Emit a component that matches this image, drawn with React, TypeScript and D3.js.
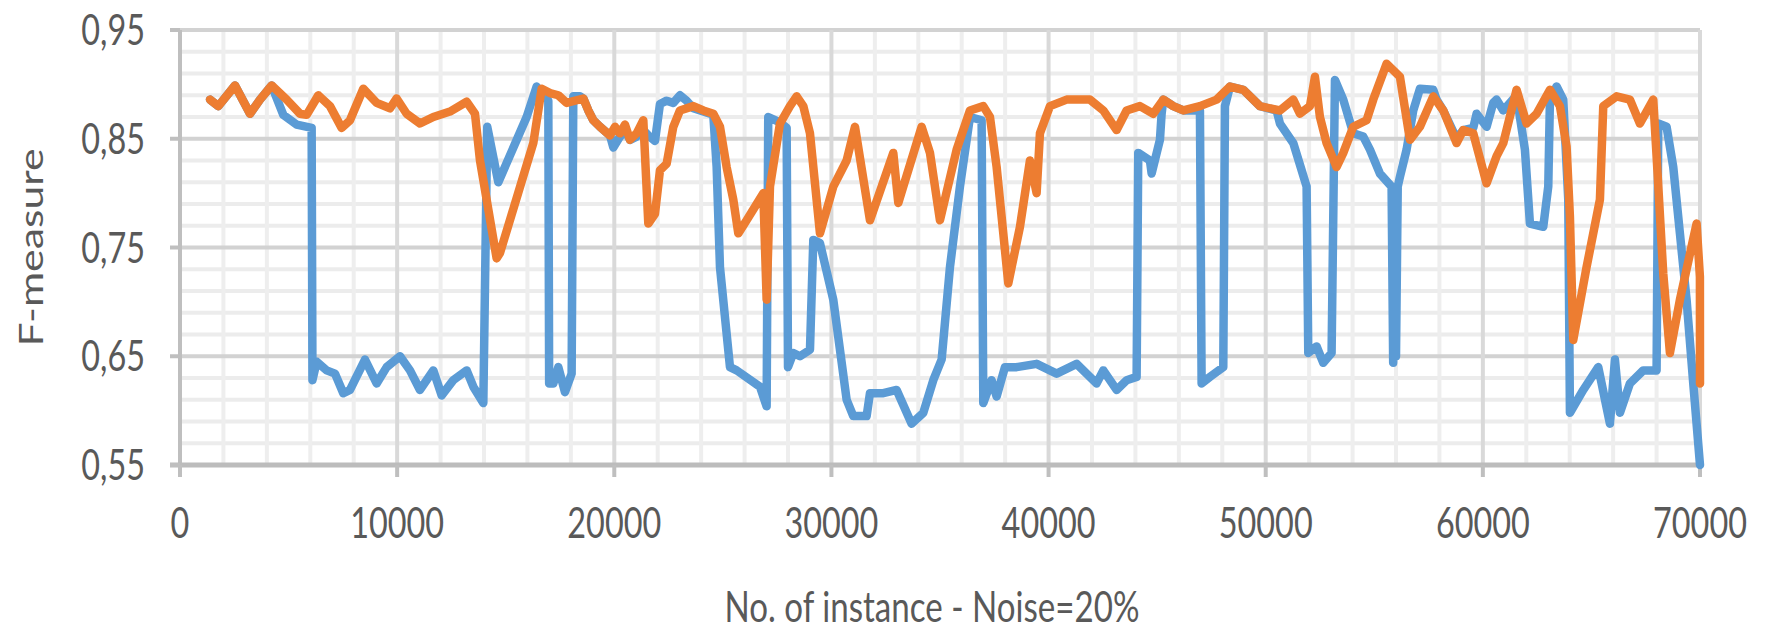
import React from "react";
import * as d3 from "d3";

const xTicks = [0, 10000, 20000, 30000, 40000, 50000, 60000, 70000];
const xTickLabels = ["0", "10000", "20000", "30000", "40000", "50000", "60000", "70000"];
const yTicks = [0.55, 0.65, 0.75, 0.85, 0.95];
const yTickLabels = ["0,55", "0,65", "0,75", "0,85", "0,95"];
const xTitle = "No. of instance - Noise=20%";
const yTitle = "F-measure";

const seriesBlue: [number, number][] = [
  [1381, 0.886], [1765, 0.88], [2533, 0.899], [3224, 0.873], [3684, 0.886], [4221, 0.899],
  [4758, 0.872], [5372, 0.863], [6063, 0.86], [6100, 0.628], [6293, 0.645], [6754, 0.637],
  [7138, 0.634], [7521, 0.616], [7828, 0.619], [8519, 0.647], [9056, 0.625], [9517, 0.64],
  [10131, 0.65], [10591, 0.637], [11052, 0.619], [11666, 0.637], [12050, 0.614], [12587, 0.628],
  [13201, 0.637], [13508, 0.622], [13969, 0.607], [14150, 0.861], [14659, 0.81], [15964, 0.87],
  [16424, 0.898], [16700, 0.89], [16962, 0.885], [17000, 0.625], [17192, 0.625], [17422, 0.64],
  [17729, 0.617], [18036, 0.634], [18113, 0.889], [18420, 0.889], [18574, 0.887], [18804, 0.876],
  [19034, 0.867], [19341, 0.861], [19802, 0.853], [19955, 0.842], [20262, 0.852], [20492, 0.858],
  [20723, 0.849], [21030, 0.852], [21337, 0.858], [21567, 0.853], [21874, 0.848], [22104, 0.882],
  [22411, 0.885], [22718, 0.883], [23025, 0.89], [23332, 0.885], [23639, 0.878], [24100, 0.875],
  [24560, 0.872], [24714, 0.824], [24867, 0.732], [25328, 0.64], [25635, 0.637], [26709, 0.622],
  [27016, 0.604], [27090, 0.87], [27630, 0.865], [27937, 0.86], [28000, 0.64], [28244, 0.653],
  [28551, 0.65], [29012, 0.656], [29165, 0.757], [29472, 0.754], [30086, 0.702], [30700, 0.61],
  [31007, 0.595], [31621, 0.595], [31775, 0.616], [32389, 0.616], [33003, 0.619], [33693, 0.588],
  [34231, 0.598], [34691, 0.628], [35075, 0.647], [35459, 0.732], [35919, 0.806], [36380, 0.87],
  [36917, 0.867], [36994, 0.607], [37377, 0.628], [37608, 0.613], [37991, 0.64], [38529, 0.64],
  [39450, 0.643], [40371, 0.634], [41292, 0.643], [42213, 0.625], [42520, 0.637], [43134, 0.619],
  [43594, 0.628], [44055, 0.631], [44130, 0.837], [44669, 0.83], [44746, 0.818], [45129, 0.849],
  [45206, 0.873], [45283, 0.886], [45743, 0.88], [46204, 0.876], [46971, 0.876], [47048, 0.625],
  [47432, 0.631], [48046, 0.64], [48123, 0.88], [48353, 0.898], [48967, 0.895], [49734, 0.88],
  [50502, 0.876], [50655, 0.864], [51269, 0.846], [51883, 0.806], [51960, 0.653], [52344, 0.659],
  [52651, 0.644], [53034, 0.653], [53188, 0.904], [53572, 0.886], [54032, 0.855], [54493, 0.852],
  [54800, 0.84], [55260, 0.818], [55797, 0.806], [55870, 0.644], [55950, 0.8], [56000, 0.65],
  [56080, 0.806], [56181, 0.815], [56488, 0.84], [56795, 0.876], [57102, 0.896], [57716, 0.895],
  [57870, 0.886], [58177, 0.876], [58791, 0.85], [59098, 0.858], [59558, 0.86], [59712, 0.873],
  [60172, 0.861], [60479, 0.883], [60633, 0.886], [60940, 0.876], [61553, 0.89], [61707, 0.87],
  [61937, 0.84], [62168, 0.772], [62782, 0.769], [63012, 0.806], [63089, 0.886], [63396, 0.898],
  [63703, 0.886], [63933, 0.794], [64010, 0.598], [64624, 0.619], [65314, 0.64], [65852, 0.588],
  [66082, 0.647], [66312, 0.598], [66773, 0.625], [67387, 0.637], [68001, 0.637], [68078, 0.864],
  [68461, 0.861], [68768, 0.824], [69075, 0.763], [69382, 0.702], [69689, 0.625], [70000, 0.55],
];

const seriesOrange: [number, number][] = [
  [1381, 0.886], [1765, 0.88], [2533, 0.899], [3224, 0.873], [3684, 0.886], [4221, 0.899],
  [4912, 0.886], [5526, 0.873], [5833, 0.872], [6370, 0.89], [6908, 0.88], [7445, 0.86],
  [7828, 0.867], [8442, 0.896], [9056, 0.883], [9670, 0.878], [9977, 0.887], [10438, 0.873],
  [11052, 0.864], [11666, 0.87], [12434, 0.875], [13201, 0.884], [13585, 0.873], [13815, 0.83],
  [14582, 0.74], [14736, 0.745], [16271, 0.846], [16655, 0.896], [17038, 0.892], [17422, 0.89],
  [17806, 0.883], [18574, 0.887], [18804, 0.876], [19034, 0.867], [19341, 0.861], [19802, 0.853],
  [20032, 0.861], [20262, 0.855], [20492, 0.863], [20723, 0.849], [21030, 0.855], [21337, 0.867],
  [21567, 0.772], [21874, 0.781], [22104, 0.821], [22411, 0.827], [22718, 0.861], [23025, 0.876],
  [23639, 0.88], [24100, 0.876], [24560, 0.873], [24867, 0.861], [25174, 0.824], [25481, 0.794],
  [25711, 0.763], [26095, 0.775], [26863, 0.8], [27016, 0.702], [27170, 0.806], [27630, 0.864],
  [28091, 0.88], [28398, 0.889], [28705, 0.88], [29012, 0.855], [29472, 0.763], [30086, 0.806],
  [30700, 0.83], [31084, 0.861], [31775, 0.775], [32849, 0.837], [33079, 0.791], [33310, 0.806],
  [34154, 0.861], [34538, 0.837], [34998, 0.775], [35766, 0.84], [36380, 0.876], [36994, 0.88],
  [37301, 0.87], [37608, 0.824], [38145, 0.717], [38682, 0.769], [39143, 0.83], [39450, 0.8],
  [39603, 0.855], [40064, 0.88], [40831, 0.886], [41906, 0.886], [42520, 0.876], [43134, 0.858],
  [43594, 0.876], [44208, 0.88], [44822, 0.873], [45283, 0.886], [45743, 0.88], [46204, 0.876],
  [46971, 0.88], [47739, 0.886], [48353, 0.898], [48967, 0.895], [49734, 0.88], [50655, 0.876],
  [51269, 0.886], [51576, 0.873], [52037, 0.88], [52267, 0.907], [52497, 0.87], [52804, 0.846],
  [53265, 0.824], [53572, 0.837], [54032, 0.861], [54646, 0.867], [54953, 0.886], [55567, 0.919],
  [56181, 0.907], [56641, 0.849], [57102, 0.861], [57716, 0.889], [58177, 0.876], [58791, 0.846],
  [59098, 0.858], [59558, 0.855], [60172, 0.809], [60633, 0.834], [60940, 0.846], [61553, 0.895],
  [62014, 0.864], [62475, 0.873], [63089, 0.895], [63549, 0.88], [63856, 0.843], [64010, 0.778],
  [64163, 0.665], [64777, 0.732], [65391, 0.794], [65545, 0.88], [66159, 0.889], [66773, 0.886],
  [67233, 0.864], [67847, 0.886], [68001, 0.834], [68308, 0.726], [68615, 0.653], [69075, 0.702],
  [69843, 0.772], [69996, 0.723], [70000, 0.625],
];

const FONT = "Lato, 'Open Sans', sans-serif";
const TEXT = "#595959";

export default function App() {
  const W = 1770;
  const H = 630;
  const x = d3.scaleLinear().domain([0, 70000]).range([180, 1700]);
  const y = d3.scaleLinear().domain([0.55, 0.95]).range([465, 30]);

  const minorX = d3.range(2000, 70000, 2000).filter((v) => v % 10000 !== 0);
  const minorY = d3.range(1, 20).filter((i) => i % 5 !== 0).map((i) => 0.55 + i * 0.02);

  const line = d3
    .line<[number, number]>()
    .x((d) => x(d[0]))
    .y((d) => y(d[1]));

  const [x0, x1] = x.range();
  const [y0, y1] = y.range();
  const labelScale = "scale(0.9, 1.16)";

  return (
    <svg
      width={W}
      height={H}
      viewBox={`0 0 ${W} ${H}`}
      style={{ position: "absolute", left: 0, top: 0, background: "#fff" }}
    >
      <rect x={0} y={0} width={W} height={H} fill="#fff" />
      {minorY.map((v, i) => (
        <line key={`my${i}`} x1={x0} x2={x1} y1={y(v)} y2={y(v)} stroke="#ececec" strokeWidth={4} />
      ))}
      {minorX.map((v, i) => (
        <line key={`mx${i}`} x1={x(v)} x2={x(v)} y1={y1} y2={y0} stroke="#eeeeee" strokeWidth={4} />
      ))}
      {yTicks.slice(1).map((v, i) => (
        <line key={`gy${i}`} x1={x0} x2={x1} y1={y(v)} y2={y(v)} stroke="#d2d2d2" strokeWidth={4} />
      ))}
      {xTicks.slice(1).map((v, i) => (
        <line key={`gx${i}`} x1={x(v)} x2={x(v)} y1={y1} y2={y0} stroke="#d9d9d9" strokeWidth={4} />
      ))}
      <line x1={x0} x2={x0} y1={y1} y2={y0 + 12} stroke="#bfbfbf" strokeWidth={4} />
      <line x1={x0 - 10} x2={x1 + 2} y1={y0} y2={y0} stroke="#bcbcbc" strokeWidth={5} />
      {yTicks.map((v, i) => (
        <line key={`ty${i}`} x1={x0 - 10} x2={x0} y1={y(v)} y2={y(v)} stroke="#bfbfbf" strokeWidth={4} />
      ))}
      {xTicks.map((v, i) => (
        <line key={`tx${i}`} x1={x(v)} x2={x(v)} y1={y0} y2={y0 + 12} stroke="#bfbfbf" strokeWidth={4} />
      ))}
      <path
        d={line(seriesBlue) || ""}
        fill="none"
        stroke="#5b9bd5"
        strokeWidth={8.5}
        strokeLinejoin="round"
        strokeLinecap="round"
      />
      <path
        d={line(seriesOrange) || ""}
        fill="none"
        stroke="#ed7d31"
        strokeWidth={8.5}
        strokeLinejoin="round"
        strokeLinecap="round"
      />
      {yTicks.map((v, i) => (
        <text
          key={`ly${i}`}
          transform={`translate(145, ${y(v) + 15}) ${labelScale}`}
          textAnchor="end"
          fontFamily={FONT}
          fontSize={36}
          fill={TEXT}
        >
          {yTickLabels[i]}
        </text>
      ))}
      {xTicks.map((v, i) => (
        <text
          key={`lx${i}`}
          transform={`translate(${x(v)}, 538) ${labelScale}`}
          textAnchor="middle"
          fontFamily={FONT}
          fontSize={36}
          fill={TEXT}
        >
          {xTickLabels[i]}
        </text>
      ))}
      <text
        x={932}
        y={622}
        textAnchor="middle"
        fontFamily={FONT}
        fontSize={42}
        fill={TEXT}
        textLength={415}
        lengthAdjust="spacingAndGlyphs"
      >
        {xTitle}
      </text>
      <text
        transform={`translate(43, ${(y0 + y1) / 2}) rotate(-90)`}
        textAnchor="middle"
        fontFamily={FONT}
        fontSize={32}
        fill={TEXT}
        textLength={198}
        lengthAdjust="spacingAndGlyphs"
      >
        {yTitle}
      </text>
    </svg>
  );
}
